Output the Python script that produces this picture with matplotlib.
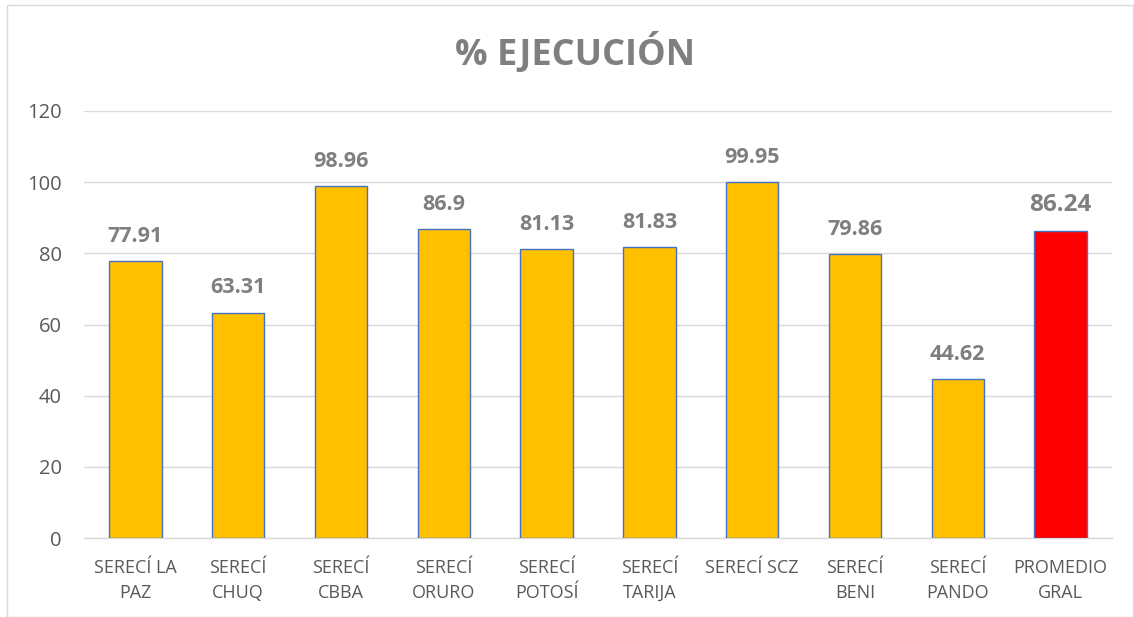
import matplotlib
matplotlib.use("Agg")
import matplotlib.pyplot as plt
from matplotlib.patches import Rectangle

categories = ["SERECÍ LA\nPAZ", "SERECÍ\nCHUQ", "SERECÍ\nCBBA", "SERECÍ\nORURO", "SERECÍ\nPOTOSÍ",
              "SERECÍ\nTARIJA", "SERECÍ SCZ", "SERECÍ\nBENI", "SERECÍ\nPANDO", "PROMEDIO\nGRAL"]
values = [77.91, 63.31, 98.96, 86.9, 81.13, 81.83, 99.95, 79.86, 44.62, 86.24]
labels = ["77.91", "63.31", "98.96", "86.9", "81.13", "81.83", "99.95", "79.86", "44.62", "86.24"]
colors = ["#FFC000"] * 9 + ["#FF0000"]

plt.rcParams['font.family'] = ['Open Sans', 'DejaVu Sans']
fig = plt.figure(figsize=(11.34, 6.17), dpi=100)
ax = fig.add_axes([84/1134, 1 - 538/617, (1112 - 84)/1134, (538 - 111)/617])

x = list(range(len(values)))
bars = ax.bar(x, values, width=0.51, color=colors, edgecolor="#4472C4", linewidth=1.0, zorder=3)
for i, (xi, v, lab) in enumerate(zip(x, values, labels)):
    fs = 17.5 if i == len(values) - 1 else 15.5
    ax.text(xi, v + 4, lab, ha="center", va="bottom", fontsize=fs, fontweight="bold", color="#7F7F7F")

ax.set_ylim(0, 120)
ax.set_xlim(-0.5, len(values) - 0.5)
ax.set_yticks(range(0, 121, 20))
ax.set_xticks(x)
ax.set_xticklabels(categories, fontsize=13, color="#595959", linespacing=1.5)
ax.tick_params(axis="y", labelsize=14.5, labelcolor="#595959", length=0, pad=16)
ax.tick_params(axis="x", length=0, pad=15)
ax.grid(axis="y", color="#D9D9D9", linewidth=1, zorder=0)
for s in ["top", "right", "left"]:
    ax.spines[s].set_visible(False)
ax.spines["bottom"].set_color("#D9D9D9")
ax.spines["bottom"].set_linewidth(1)

fig.text(575/1134, 1 - 53/617, "% EJECUCIÓN", ha="center", va="center", fontsize=26,
         fontweight="bold", color="#7F7F7F")
fig.patches.append(Rectangle((7/1134, 0), (1133 - 7)/1134, 1 - 5/617, transform=fig.transFigure,
                             fill=False, edgecolor="#D9D9D9", linewidth=1))
fig.savefig("out.png", dpi=100)
